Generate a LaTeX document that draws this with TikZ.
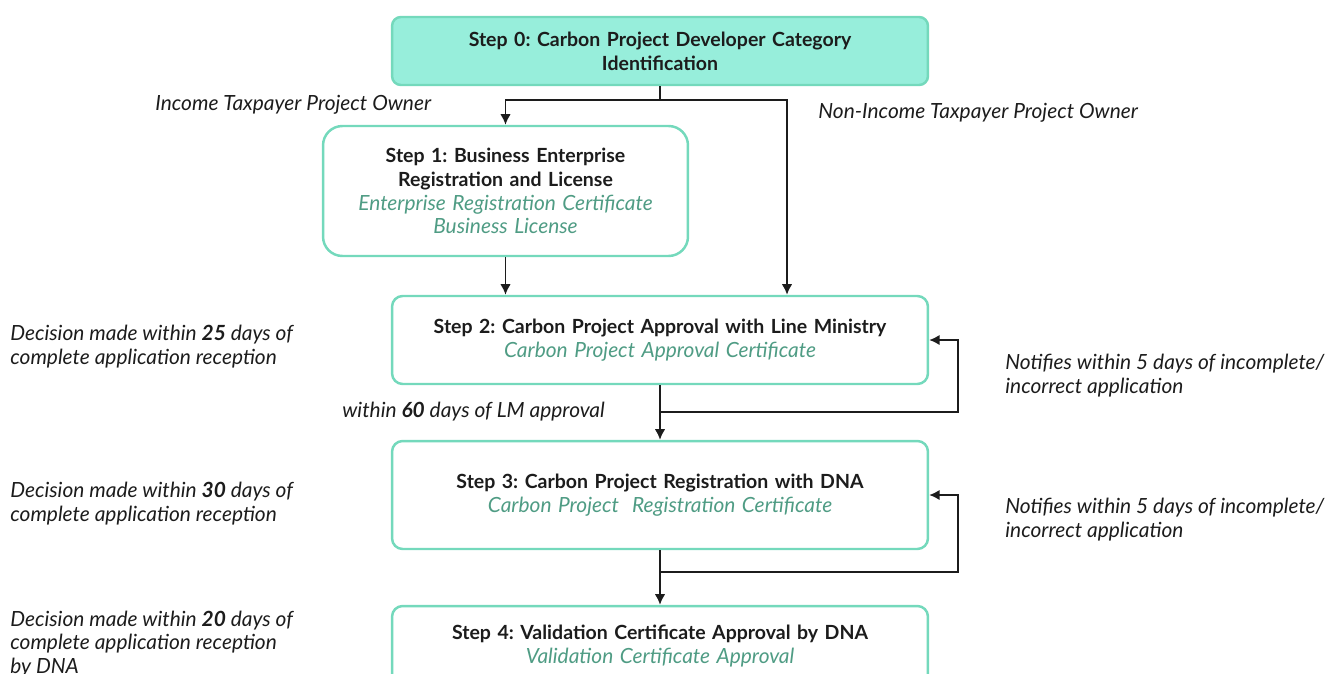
\documentclass[tikz,border=0pt]{standalone}
\usepackage{fontspec}
\setmainfont{Lato}
\usetikzlibrary{arrows.meta}
\definecolor{mint}{HTML}{97EEDB}
\definecolor{mintline}{HTML}{74D9BC}
\definecolor{certgreen}{HTML}{4F9C84}
\definecolor{ink}{HTML}{1C1C1C}
\newcommand{\certline}[1]{{\mdseries\itshape\fontsize{11.9}{13.6}\selectfont\color{certgreen}#1}}
\frenchspacing
\begin{document}
\begin{tikzpicture}[x=0.02cm,y=-0.02cm,
    stepbox/.style={draw=mintline, line width=1.4pt, rounded corners=6pt, fill=white,
        align=center, text=ink, minimum width=10.72cm, text width=10.4cm,
        font=\fontsize{11.1}{13.6}\selectfont\bfseries},
    note/.style={anchor=west, align=left, inner sep=0pt, text=ink,
        font=\fontsize{11.9}{13.6}\selectfont\itshape},
    flow/.style={line width=1.1pt, draw=ink},
    arr/.style={flow, -{Latex[length=6pt,width=6pt]}}]
    \useasboundingbox (0,0) rectangle (1327,673);

    \node[stepbox, fill=mint, rounded corners=5pt, minimum height=1.36cm] (s0) at (660,51)
        {Step 0: Carbon Project Developer Category\\Identification};
    \node[stepbox, rounded corners=11pt, minimum width=7.3cm, text width=7cm, minimum height=2.6cm] (s1) at (505.5,191)
        {Step 1: Business Enterprise\\Registration and License\\
         \certline{Enterprise Registration Certificate}\\\certline{Business License}};
    \node[stepbox, minimum height=1.76cm] (s2) at (660,340)
        {Step 2: Carbon Project Approval with Line Ministry\\\certline{Carbon Project Approval Certificate}};
    \node[stepbox, minimum height=2.16cm] (s3) at (660,495)
        {Step 3: Carbon Project Registration with DNA\\\certline{Carbon Project\ \ Registration Certificate}};
    \node[stepbox, minimum height=1.6cm] (s4) at (660,646)
        {Step 4: Validation Certificate Approval by DNA\\\certline{Validation Certificate Approval}};

    \coordinate (split) at (660,100);
    \coordinate (nontax) at (787,100);
    \draw[flow] (s0.south) -- (split);
    \draw[arr] (split) -| (s1.north);
    \draw[arr] (split) -- (nontax) -- (nontax |- s2.north);
    \draw[arr] (s1.south) -- (s1.south |- s2.north);

    \coordinate (loop2) at (958,412);
    \coordinate (loop3) at (958,572);
    \draw[arr] (s2.south) -- (s3.north);
    \draw[arr] (s2.south |- loop2) -- (loop2) |- (s2.east);
    \draw[arr] (s3.south) -- (s4.north);
    \draw[arr] (s3.south |- loop3) -- (loop3) |- (s3.east);

    \node[note] (taxpayer) at (155,105) {Income Taxpayer Project Owner};
    \node[note] (nontaxpayer) at (818,113) {Non-Income Taxpayer Project Owner};
    \node[note] (lmdays) at (342,412) {within \textbf{60} days of LM approval};
    \node[note] (dec2) at (10,347) {Decision made within \textbf{25} days of\\complete application reception};
    \node[note] (dec3) at (10,504) {Decision made within \textbf{30} days of\\complete application reception};
    \node[note] (dec4) at (10,644) {Decision made within \textbf{20} days of\\complete application reception\\by DNA};
    \node[note] (notif2) at (1005,376) {Notifies within 5 days of incomplete/\\incorrect application};
    \node[note] (notif3) at (1005,520) {Notifies within 5 days of incomplete/\\incorrect application};
\end{tikzpicture}
\end{document}
